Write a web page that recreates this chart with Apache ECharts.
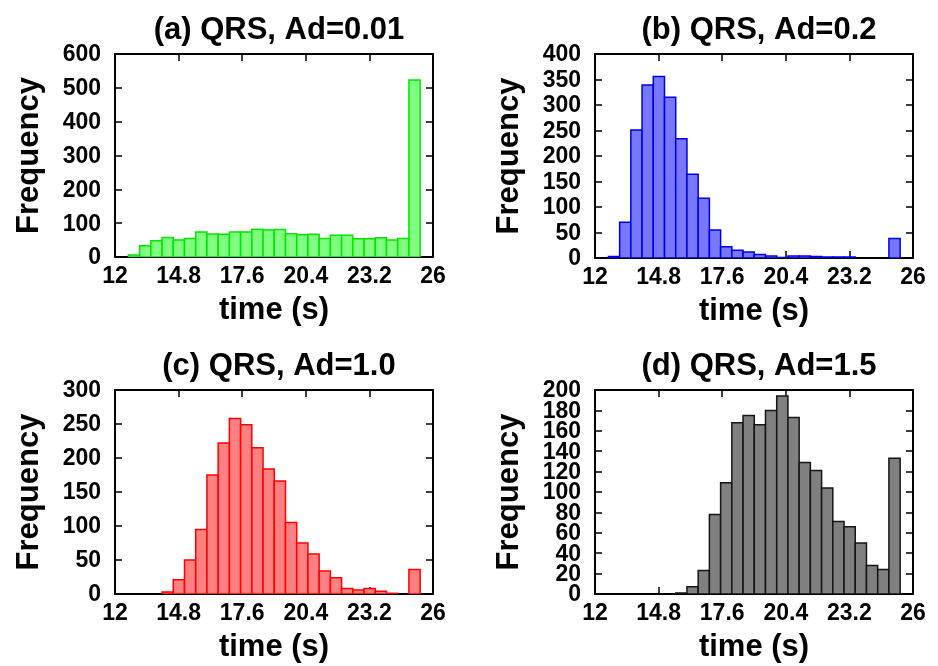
<!DOCTYPE html>
<html>
<head>
<meta charset="utf-8">
<script src="https://cdn.jsdelivr.net/npm/echarts@6/dist/echarts.min.js"></script>
<style>
html,body{margin:0;padding:0;background:#fff;}
#chart{width:938px;height:666px;}
</style>
</head>
<body>
<div id="chart"></div>
<script>
// ---- data ----
const panelTitles = ['(a) QRS, Ad=0.01', '(b) QRS, Ad=0.2', '(c) QRS, Ad=1.0', '(d) QRS, Ad=1.5'];
const xTicks = [12, 14.8, 17.6, 20.4, 23.2, 26];
const binStart = 12.59;
const binWidth = 0.494;
const countsA = [6, 33, 48, 58, 50, 55, 74, 68, 67, 74, 74, 82, 80, 81, 69, 66, 67, 55, 64, 64, 54, 54, 57, 50, 55, 523];
const countsB = [3, 70, 251, 339, 356, 315, 234, 164, 117, 55, 22, 15, 12, 7, 4, 1, 4, 4, 3, 2, 2, 2, 0, 0, 0, 38];
const countsC = [0, 0, 0, 3, 21, 50, 95, 175, 222, 258, 249, 215, 184, 166, 105, 75, 59, 34, 24, 8, 6, 8, 4, 1, 0, 36];
const countsD = [0, 0, 0, 0, 0, 0, 1, 7, 23, 78, 109, 168, 175, 166, 180, 194, 173, 129, 121, 104, 71, 66, 50, 28, 24, 133];
const yMax = [600, 400, 300, 200];
const yStep = [100, 50, 50, 20];

// ---- styles ----
const allCounts = [countsA, countsB, countsC, countsD];
const fills = ['#80ff80', '#7777ff', '#ff8080', '#808080'];
const strokes = ['#00e600', '#0000e6', '#ff0000', '#151515'];
const FONT = '"Liberation Sans", Arial, Helvetica, sans-serif';
const grids = [
  {left: 115, top: 54, width: 318, height: 203},
  {left: 595, top: 54, width: 318, height: 204},
  {left: 115, top: 390, width: 318, height: 204},
  {left: 595, top: 390, width: 318, height: 204}
];

const xMin = xTicks[0], xMax = xTicks[xTicks.length - 1];
const xInterval = +(xTicks[1] - xTicks[0]).toFixed(4);

const option = {
  animation: false,
  backgroundColor: '#fff',
  title: [], grid: [], xAxis: [], yAxis: [], series: []
};

const lineStyle = {color: '#000', width: 2};
const tickStyle = {show: true, inside: true, length: 7, lineStyle: {color: '#000', width: 1.5}};
const LABEL_SIZE = 23;

grids.forEach((g, i) => {
  option.grid.push({left: g.left, top: g.top, width: g.width, height: g.height, containLabel: false, show: false});
  option.title.push({
    text: panelTitles[i],
    left: g.left + g.width / 2,
    top: g.top - 44,
    textAlign: 'center',
    textStyle: {fontFamily: FONT, fontWeight: 'bold', fontSize: 31, color: '#000'}
  });
  // bottom x axis
  option.xAxis.push({
    gridIndex: i, type: 'value', position: 'bottom', min: xMin, max: xMax, interval: xInterval,
    name: 'time (s)', nameLocation: 'middle', nameGap: 38,
    nameTextStyle: {fontFamily: FONT, fontWeight: 'bold', fontSize: 31, color: '#000'},
    axisLine: {show: true, onZero: false, lineStyle},
    axisTick: tickStyle,
    splitLine: {show: false},
    axisLabel: {show: true, margin: 12, fontFamily: FONT, fontWeight: 'bold', fontSize: LABEL_SIZE,
      color: '#000', lineHeight: 16, formatter: v => String(+(+v).toFixed(1))}
  });
  // top mirror axis
  option.xAxis.push({
    gridIndex: i, type: 'value', position: 'top', min: xMin, max: xMax, interval: xInterval,
    axisLine: {show: true, onZero: false, lineStyle},
    axisTick: tickStyle, splitLine: {show: false}, axisLabel: {show: false}
  });
  // left y axis (labels drawn by a text series below so none are dropped)
  option.yAxis.push({
    gridIndex: i, type: 'value', position: 'left', min: 0, max: yMax[i], interval: yStep[i],
    name: 'Frequency', nameLocation: 'middle', nameGap: 70, nameRotate: 90,
    nameTextStyle: {fontFamily: FONT, fontWeight: 'bold', fontSize: 31, color: '#000'},
    axisLine: {show: true, onZero: false, lineStyle},
    axisTick: tickStyle, splitLine: {show: false},
    axisLabel: {show: false}
  });
  // right mirror axis
  option.yAxis.push({
    gridIndex: i, type: 'value', position: 'right', min: 0, max: yMax[i], interval: yStep[i],
    axisLine: {show: true, onZero: false, lineStyle},
    axisTick: tickStyle, splitLine: {show: false}, axisLabel: {show: false}
  });

  const data = allCounts[i].map((v, k) => [binStart + k * binWidth, v]).filter(d => d[1] > 0);
  option.series.push({
    type: 'custom',
    xAxisIndex: i * 2, yAxisIndex: i * 2,
    clip: true,
    z: 1,
    data: data,
    renderItem: (params, api) => {
      const x0 = api.value(0), v = api.value(1);
      const p0 = api.coord([x0, 0]);
      const p1 = api.coord([x0 + binWidth, v]);
      return {
        type: 'rect',
        shape: {x: p0[0], y: p1[1], width: p1[0] - p0[0], height: p0[1] - p1[1]},
        style: {fill: fills[i], stroke: strokes[i], lineWidth: 1.5}
      };
    }
  });

  // y tick labels
  const yTickVals = [];
  for (let t = 0; t <= yMax[i] + 1e-9; t += yStep[i]) yTickVals.push([xMin, t]);
  option.series.push({
    type: 'custom',
    xAxisIndex: i * 2, yAxisIndex: i * 2,
    clip: false,
    silent: true,
    z: 5,
    data: yTickVals,
    renderItem: (params, api) => {
      const p = api.coord([api.value(0), api.value(1)]);
      return {
        type: 'text',
        x: p[0] - 14, y: p[1] + 1,
        style: {text: String(api.value(1)), fill: '#000', fontFamily: FONT, fontWeight: 'bold',
          fontSize: LABEL_SIZE, align: 'right', verticalAlign: 'middle'}
      };
    }
  });
});

const chart = echarts.init(document.getElementById('chart'), null, {renderer: 'canvas'});
chart.setOption(option);
</script>
</body>
</html>
